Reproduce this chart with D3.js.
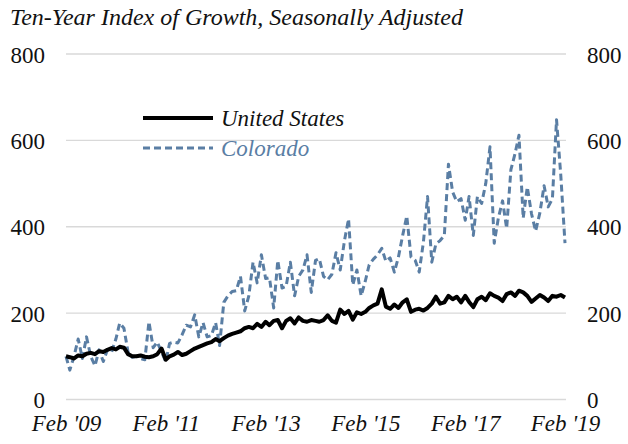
<!DOCTYPE html>
<html>
<head>
<meta charset="utf-8">
<script src="https://cdn.jsdelivr.net/npm/d3@7"></script>
<style>
  html, body { margin: 0; padding: 0; background: #fff; }
  svg { display: block; }
  svg text { font-family: "Liberation Serif", "Times New Roman", Tinos, Times, "DejaVu Serif", serif; fill: #111; }
</style>
</head>
<body>
<svg id="chart" width="628" height="444"></svg>
<script>
// Monthly index, Feb 2009 = 100, through Feb 2019
const startMonth = new Date(2009, 1, 1);
const endMonth = new Date(2019, 1, 1);

const unitedStates = [
  100, 98, 95, 102, 100, 106, 108, 105, 112, 110, 115, 119,
  116, 122, 120, 105, 100, 100, 102, 99, 98, 100, 105, 118,
  92, 100, 104, 110, 103, 106, 112, 118, 122, 126, 130, 133,
  140, 135, 142, 148, 152, 155, 158, 165, 168, 165, 175, 168,
  180, 172, 182, 184, 165, 182, 188, 176, 190, 182, 180, 184,
  182, 180, 184, 195, 182, 178, 208, 198, 205, 185, 202, 198,
  203, 212, 218, 222, 255, 215, 210, 220, 212, 225, 232, 203,
  208, 210, 206, 212, 222, 238, 222, 225, 240, 232, 238, 225,
  240, 226, 214, 232, 238, 230, 246, 240, 236, 228, 244, 248,
  240, 252, 248, 240, 226, 234, 242, 236, 228, 240, 238, 242,
  236
];

const colorado = [
  100, 68, 100, 140, 95, 145, 100, 78, 115, 88, 115, 110,
  140, 177, 165, 110, 98, 100, 95, 92, 180, 120, 133, 110,
  88, 130, 133, 131, 150, 172, 168, 196, 145, 178, 145, 148,
  178, 125, 225, 240, 250, 252, 285, 205, 240, 318, 270, 335,
  280, 282, 212, 322, 258, 262, 318, 240, 285, 300, 335, 248,
  322, 326, 285, 277, 290, 340, 300, 368, 418, 265, 300, 240,
  275, 312, 325, 335, 350, 320, 328, 295, 330, 380, 425, 330,
  322, 295, 365, 470, 318, 360, 368, 380, 545, 480, 458, 465,
  415, 470, 380, 470, 454, 500, 585, 362, 420, 460, 396, 532,
  570, 612, 420, 492, 430, 390, 432, 495, 446, 465, 648, 520,
  362
];

const yTicks = [0, 200, 400, 600, 800];
const xTickLabels = ["Feb '09", "Feb '11", "Feb '13", "Feb '15", "Feb '17", "Feb '19"];
const xTickDates = [2009, 2011, 2013, 2015, 2017, 2019].map(y => new Date(y, 1, 1));

const seriesNames = ["United States", "Colorado"];
const seriesColors = ["#000000", "#5a7ea4"];

const serif = '"Liberation Serif", "Times New Roman", Tinos, Times, "DejaVu Serif", serif';

const months = d3.timeMonth.range(startMonth, d3.timeMonth.offset(endMonth, 1));

const svg = d3.select("#chart");

const x = d3.scaleTime().domain([startMonth, endMonth]).range([66, 565]);
const y = d3.scaleLinear().domain([0, 800]).range([399.5, 54]);

// Horizontal gridlines
svg.append("g")
  .selectAll("line")
  .data(yTicks)
  .join("line")
  .attr("x1", 66).attr("x2", 566)
  .attr("y1", d => y(d)).attr("y2", d => y(d))
  .attr("stroke", "#d9d9d9")
  .attr("stroke-width", 1.3);

// Left and right value axes
const leftAxis = svg.append("g")
  .attr("transform", "translate(45,0)")
  .call(d3.axisLeft(y).tickValues(yTicks).tickSize(0).tickPadding(0));
const rightAxis = svg.append("g")
  .attr("transform", "translate(587,0)")
  .call(d3.axisRight(y).tickValues(yTicks).tickSize(0).tickPadding(0));
[leftAxis, rightAxis].forEach(a => {
  a.attr("font-family", null);
  a.select(".domain").remove();
  a.selectAll("text")
    .style("font-family", serif)
    .attr("font-size", 23)
    .attr("fill", "#111")
    .attr("dy", "0.35em");
});

// Date axis
const bottomAxis = svg.append("g")
  .attr("transform", "translate(0,415)")
  .call(d3.axisBottom(x).tickValues(xTickDates).tickSize(0).tickPadding(0)
    .tickFormat((d, i) => xTickLabels[i]));
bottomAxis.attr("font-family", null);
bottomAxis.select(".domain").remove();
bottomAxis.selectAll("text")
  .style("font-family", serif)
  .attr("font-size", 23)
  .attr("font-style", "italic")
  .attr("fill", "#111")
  .attr("dy", "0.71em");

// Series lines
const line = d3.line()
  .x((d, i) => x(months[i]))
  .y(d => y(d));

svg.append("path")
  .datum(colorado)
  .attr("d", line)
  .attr("fill", "none")
  .attr("stroke", seriesColors[1])
  .attr("stroke-width", 3)
  .attr("stroke-dasharray", "7,4")
  .attr("stroke-linejoin", "round");

svg.append("path")
  .datum(unitedStates)
  .attr("d", line)
  .attr("fill", "none")
  .attr("stroke", seriesColors[0])
  .attr("stroke-width", 4)
  .attr("stroke-linejoin", "round");

// Legend
const legend = svg.append("g");
const legendRows = [
  { name: seriesNames[0], color: seriesColors[0], width: 4, dash: null, y: 118 },
  { name: seriesNames[1], color: seriesColors[1], width: 3, dash: "7,4", y: 148 }
];
legendRows.forEach(r => {
  legend.append("line")
    .attr("x1", 143).attr("x2", 213)
    .attr("y1", r.y).attr("y2", r.y)
    .attr("stroke", r.color)
    .attr("stroke-width", r.width)
    .attr("stroke-dasharray", r.dash);
  legend.append("text")
    .attr("x", 221).attr("y", r.y)
    .attr("dy", "0.33em")
    .style("font-family", serif)
    .attr("font-size", 23)
    .attr("font-style", "italic")
    .style("fill", r.color === "#000000" ? "#111" : r.color)
    .text(r.name);
});

// Title
svg.append("text")
  .attr("x", 10).attr("y", 25)
  .style("font-family", serif)
  .attr("font-size", 24)
  .attr("font-style", "italic")
  .text("Ten-Year Index of Growth, Seasonally Adjusted");
</script>
</body>
</html>
